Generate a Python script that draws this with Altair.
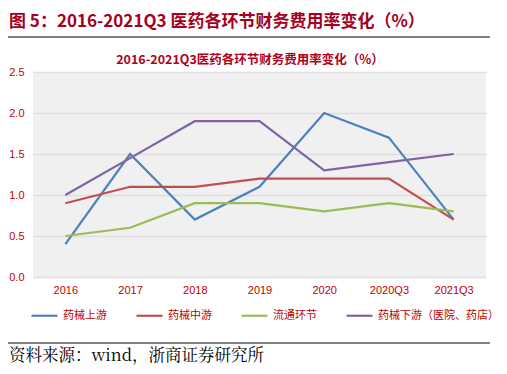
import altair as alt
import pandas as pd

categories = ["2016", "2017", "2018", "2019", "2020", "2020Q3", "2021Q3"]
series_names = ["药械上游", "药械中游", "流通环节", "药械下游（医院、药店）"]
upstream = [0.4, 1.5, 0.7, 1.1, 2.0, 1.7, 0.7]
midstream = [0.9, 1.1, 1.1, 1.2, 1.2, 1.2, 0.7]
circulation = [0.5, 0.6, 0.9, 0.9, 0.8, 0.9, 0.8]
downstream = [1.0, 1.45, 1.9, 1.9, 1.3, 1.4, 1.5]
colors = ["#4f81bd", "#c0504d", "#9bbb59", "#8064a2"]
y_ticks = [0, 0.5, 1.0, 1.5, 2.0, 2.5]

main_title = "图 5：2016-2021Q3 医药各环节财务费用率变化（%）"
inner_title = "2016-2021Q3医药各环节财务费用率变化（%）"
source_text = "资料来源：wind，浙商证券研究所"

rows = []
for name, vals in zip(series_names, [upstream, midstream, circulation, downstream]):
    for c, v in zip(categories, vals):
        rows.append({"cat": c, "series": name, "value": v})
df = pd.DataFrame(rows)

FONT = "Noto Sans CJK SC"
RED = "#c00000"

lines = alt.Chart(df).mark_line(strokeWidth=2.2).encode(
    x=alt.X("cat:N", sort=categories, title=None,
            scale=alt.Scale(type="point", padding=0.5),
            axis=alt.Axis(labelAngle=0, labelColor=RED, labelFontSize=11, labelFont="Arial",
                          ticks=False, domain=False, grid=False, labelPadding=7)),
    y=alt.Y("value:Q", title=None,
            scale=alt.Scale(domain=[0, 2.5], nice=False, zero=True),
            axis=alt.Axis(values=y_ticks, format=".1f", labelColor=RED, labelFontSize=11,
                          labelFont="Arial", ticks=False, domain=False, grid=True,
                          gridColor="#dedede", gridWidth=1.5, labelPadding=9)),
    color=alt.Color("series:N", sort=series_names,
                    scale=alt.Scale(domain=series_names, range=colors),
                    legend=alt.Legend(orient="none", legendX=-3, legendY=229,
                                      direction="horizontal", title=None,
                                      symbolType="stroke", symbolSize=676,
                                      symbolStrokeWidth=2.2, labelColor=RED,
                                      labelFont=FONT, labelFontSize=11,
                                      labelOffset=4, columnPadding=25)),
)

def text_layer(txt, x, y, size, color, weight="normal", align="left", font=FONT):
    return alt.Chart(pd.DataFrame({"t": [txt]})).mark_text(
        align=align, baseline="middle", fontSize=size, color=color,
        fontWeight=weight, font=font
    ).encode(x=alt.value(x), y=alt.value(y), text="t:N")

title_t = text_layer(main_title, -24, -50, 17, "#a50021", "bold")
inner_t = text_layer(inner_title, 217, -12, 12.5, "#b00020", "bold", "center")
source_t = text_layer(source_text, -24, 284, 16.5, "#000000", "normal", "left",
                      "Noto Serif CJK SC, Liberation Serif, serif")

top_rule = alt.Chart(pd.DataFrame({"a": [0]})).mark_rule(color="#000000", strokeWidth=1.2).encode(
    x=alt.value(-25), x2=alt.value(457), y=alt.value(-35))
bottom_rule = alt.Chart(pd.DataFrame({"a": [0]})).mark_rule(color="#000000", strokeWidth=1.2).encode(
    x=alt.value(-25), x2=alt.value(457), y=alt.value(271))

chart = alt.layer(lines, title_t, inner_t, source_t, top_rule, bottom_rule).properties(
    width=453, height=205,
    autosize=alt.AutoSizeParams(type="none"),
    padding={"left": 25, "top": 64, "right": 13, "bottom": 89},
    background="#ffffff",
).configure_view(stroke=None, fill="#f0f0f0")

chart.save("out.html", embed_options={"renderer": "svg", "actions": False})
